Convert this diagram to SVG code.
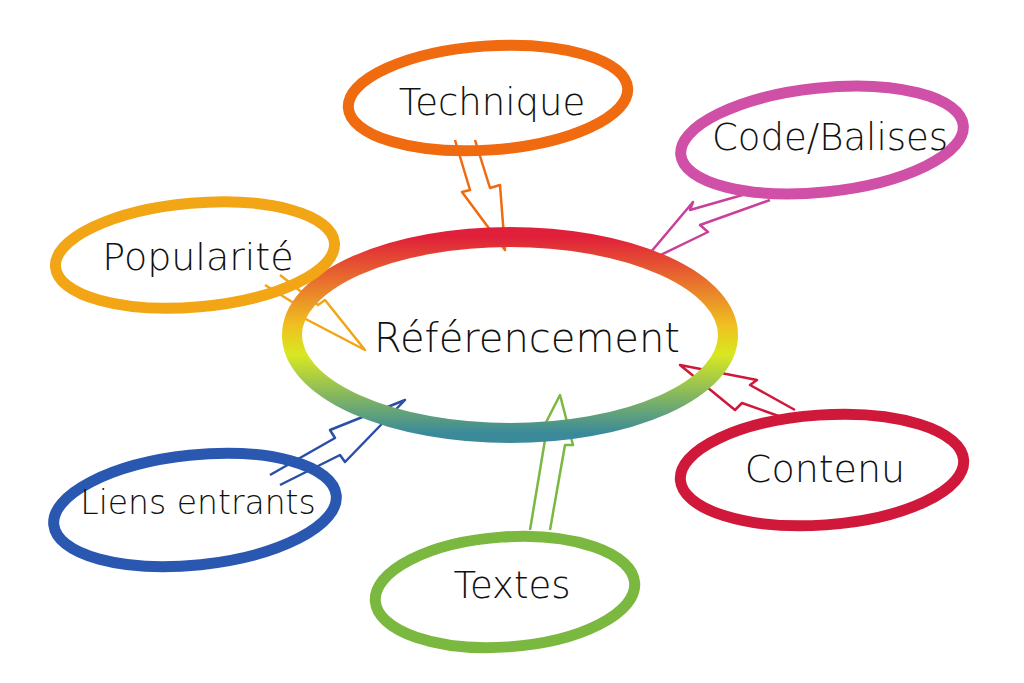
<svg xmlns="http://www.w3.org/2000/svg" width="1024" height="683" viewBox="0 0 1024 683">
<defs>
<linearGradient id="cg" x1="0" y1="0" x2="0" y2="1">
<stop offset="0" stop-color="#e0203a"/><stop offset="0.45" stop-color="#f0c020"/><stop offset="0.6" stop-color="#d8e820"/><stop offset="1" stop-color="#3a8a9a"/>
</linearGradient>
</defs>
<style>
.t{font-family:"DejaVu Sans",sans-serif;font-weight:300;fill:#111;text-anchor:middle}
.e{fill:none;stroke-width:11}
.a{fill:none;stroke-width:2.5;stroke-linejoin:round}
</style>
<rect width="1024" height="683" fill="#fff"/>
<g id="connectors">
<path class="a" stroke="#f06a10" d="M455 140 L470 190 L462 192 L505 250 L500 185 L490 188 L475 140"/>
<path class="a" stroke="#c8409a" d="M760 190 L690 210 L693 202 L640 265 L708 232 L700 225 L770 200"/>
<path class="a" stroke="#f2a515" d="M265 285 L305 310 L298 315 L365 350 L325 300 L318 305 L280 275"/>
<path class="a" stroke="#d0183a" d="M795 410 L750 385 L757 380 L680 365 L735 410 L742 403 L790 420"/>
<path class="a" stroke="#2a4fa8" d="M280 485 L340 455 L345 462 L405 400 L330 430 L335 438 L270 475"/>
<path class="a" stroke="#7ab840" d="M530 530 L545 440 L537 440 L560 395 L573 445 L565 445 L550 530"/>
</g>
<g id="center">
<ellipse cx="510" cy="335" rx="218" ry="98" fill="none" stroke="url(#cg)" stroke-width="20"/>
<text class="t" x="527" y="352" font-size="40">Référencement</text>
</g>
<g id="technique">
<ellipse class="e" stroke="#f06a10" cx="488" cy="98" rx="140" ry="52" transform="rotate(-4 488 98)"/>
<text class="t" x="492" y="115" font-size="37">Technique</text>
</g>
<g id="code">
<ellipse class="e" stroke="#d050a8" cx="822" cy="140" rx="142" ry="52" transform="rotate(-6 822 140)"/>
<text class="t" x="830" y="150" font-size="37">Code/Balises</text>
</g>
<g id="popularite">
<ellipse class="e" stroke="#f2a515" cx="195" cy="255" rx="140" ry="52" transform="rotate(-5 195 255)"/>
<text class="t" x="198" y="270" font-size="38">Popularité</text>
</g>
<g id="contenu">
<ellipse class="e" stroke="#d0183a" cx="822" cy="470" rx="142" ry="55" transform="rotate(-4 822 470)"/>
<text class="t" x="825" y="482" font-size="38">Contenu</text>
</g>
<g id="liens">
<ellipse class="e" stroke="#2a58b0" cx="195" cy="510" rx="142" ry="55" transform="rotate(-6 195 510)"/>
<text class="t" x="198" y="514" font-size="33">Liens entrants</text>
</g>
<g id="textes">
<ellipse class="e" stroke="#7ab840" cx="505" cy="592" rx="130" ry="55" transform="rotate(-4 505 592)"/>
<text class="t" x="512" y="598" font-size="37">Textes</text>
</g>
</svg>
